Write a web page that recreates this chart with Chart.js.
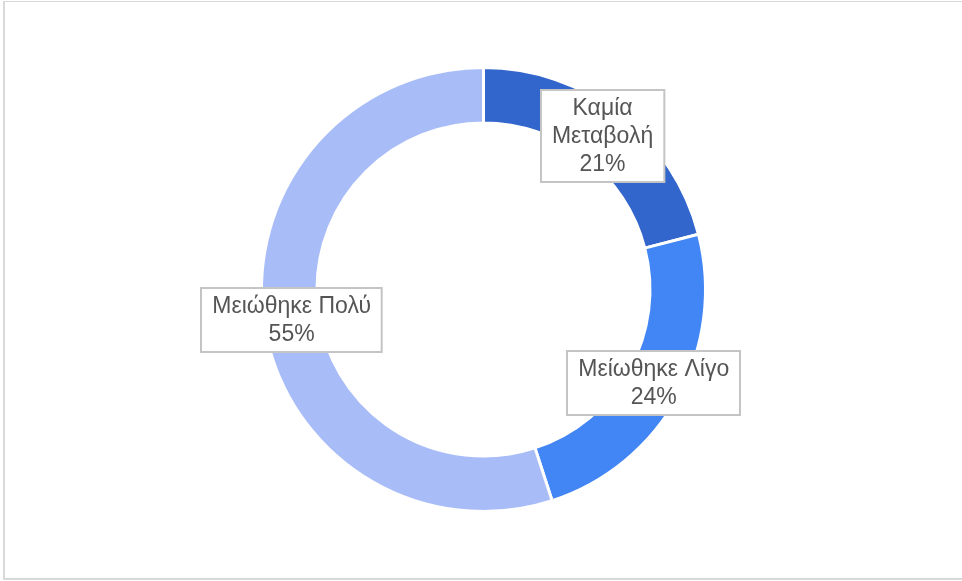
<!DOCTYPE html>
<html><head><meta charset="utf-8">
<script src="https://cdn.jsdelivr.net/npm/chart.js@4"></script>
<style>
html,body{margin:0;padding:0;background:#fff;width:962px;height:581px;overflow:hidden;}
#wrap{position:absolute;left:0;top:0;width:962px;height:581px;}
#frame{position:absolute;left:3px;top:1px;width:970px;height:576px;border:1px solid #d9d9d9;border-width:1px 0 2px 2px;pointer-events:none;}
</style></head>
<body>
<div id="wrap"><canvas id="c" width="962" height="581"></canvas></div>
<div id="frame"></div>
<script>
const categories = ["Καμία Μεταβολή", "Μείωθηκε Λίγο", "Μειώθηκε Πολύ"];
const labelLines = [["Καμία", "Μεταβολή"], ["Μείωθηκε Λίγο"], ["Μειώθηκε Πολύ"]];
const values = [21, 24, 55];
const colors = ["#3366cc", "#4285f4", "#a8bcf8"];

const labelPlugin = {
  id: 'boxLabels',
  afterDatasetsDraw(chart) {
    const ctx = chart.ctx;
    const meta = chart.getDatasetMeta(0);
    const total = values.reduce((a, b) => a + b, 0);
    ctx.save();
    ctx.font = '23px "Liberation Sans", Arial, sans-serif';
    const lh = 28;
    meta.data.forEach((arc, i) => {
      const p = arc.getCenterPoint();
      const lines = labelLines[i].concat([Math.round(values[i] / total * 100) + '%']);
      let w = 0;
      lines.forEach(l => { w = Math.max(w, ctx.measureText(l).width); });
      const bw = w + 22, bh = lines.length * lh + 8;
      const x0 = Math.round(p.x - bw / 2), y0 = Math.round(p.y - bh / 2);
      ctx.fillStyle = '#ffffff';
      ctx.fillRect(x0, y0, bw, bh);
      ctx.strokeStyle = '#c4c4c4';
      ctx.lineWidth = 2;
      ctx.strokeRect(x0, y0, bw, bh);
      ctx.fillStyle = '#555555';
      ctx.textAlign = 'center';
      ctx.textBaseline = 'middle';
      lines.forEach((l, k) => {
        ctx.fillText(l, p.x, y0 + 4 + lh * k + lh / 2 + 1);
      });
    });
    ctx.restore();
  }
};

new Chart(document.getElementById('c'), {
  type: 'doughnut',
  data: {
    labels: categories,
    datasets: [{
      data: values,
      backgroundColor: colors,
      borderColor: '#ffffff',
      borderWidth: 3,
      hoverOffset: 0
    }]
  },
  options: {
    responsive: false,
    animation: false,
    cutout: '75%',
    layout: { padding: { top: 66, bottom: 68, left: 5, right: 0 } },
    plugins: { legend: { display: false }, tooltip: { enabled: false } }
  },
  plugins: [labelPlugin]
});
</script>
</body></html>
